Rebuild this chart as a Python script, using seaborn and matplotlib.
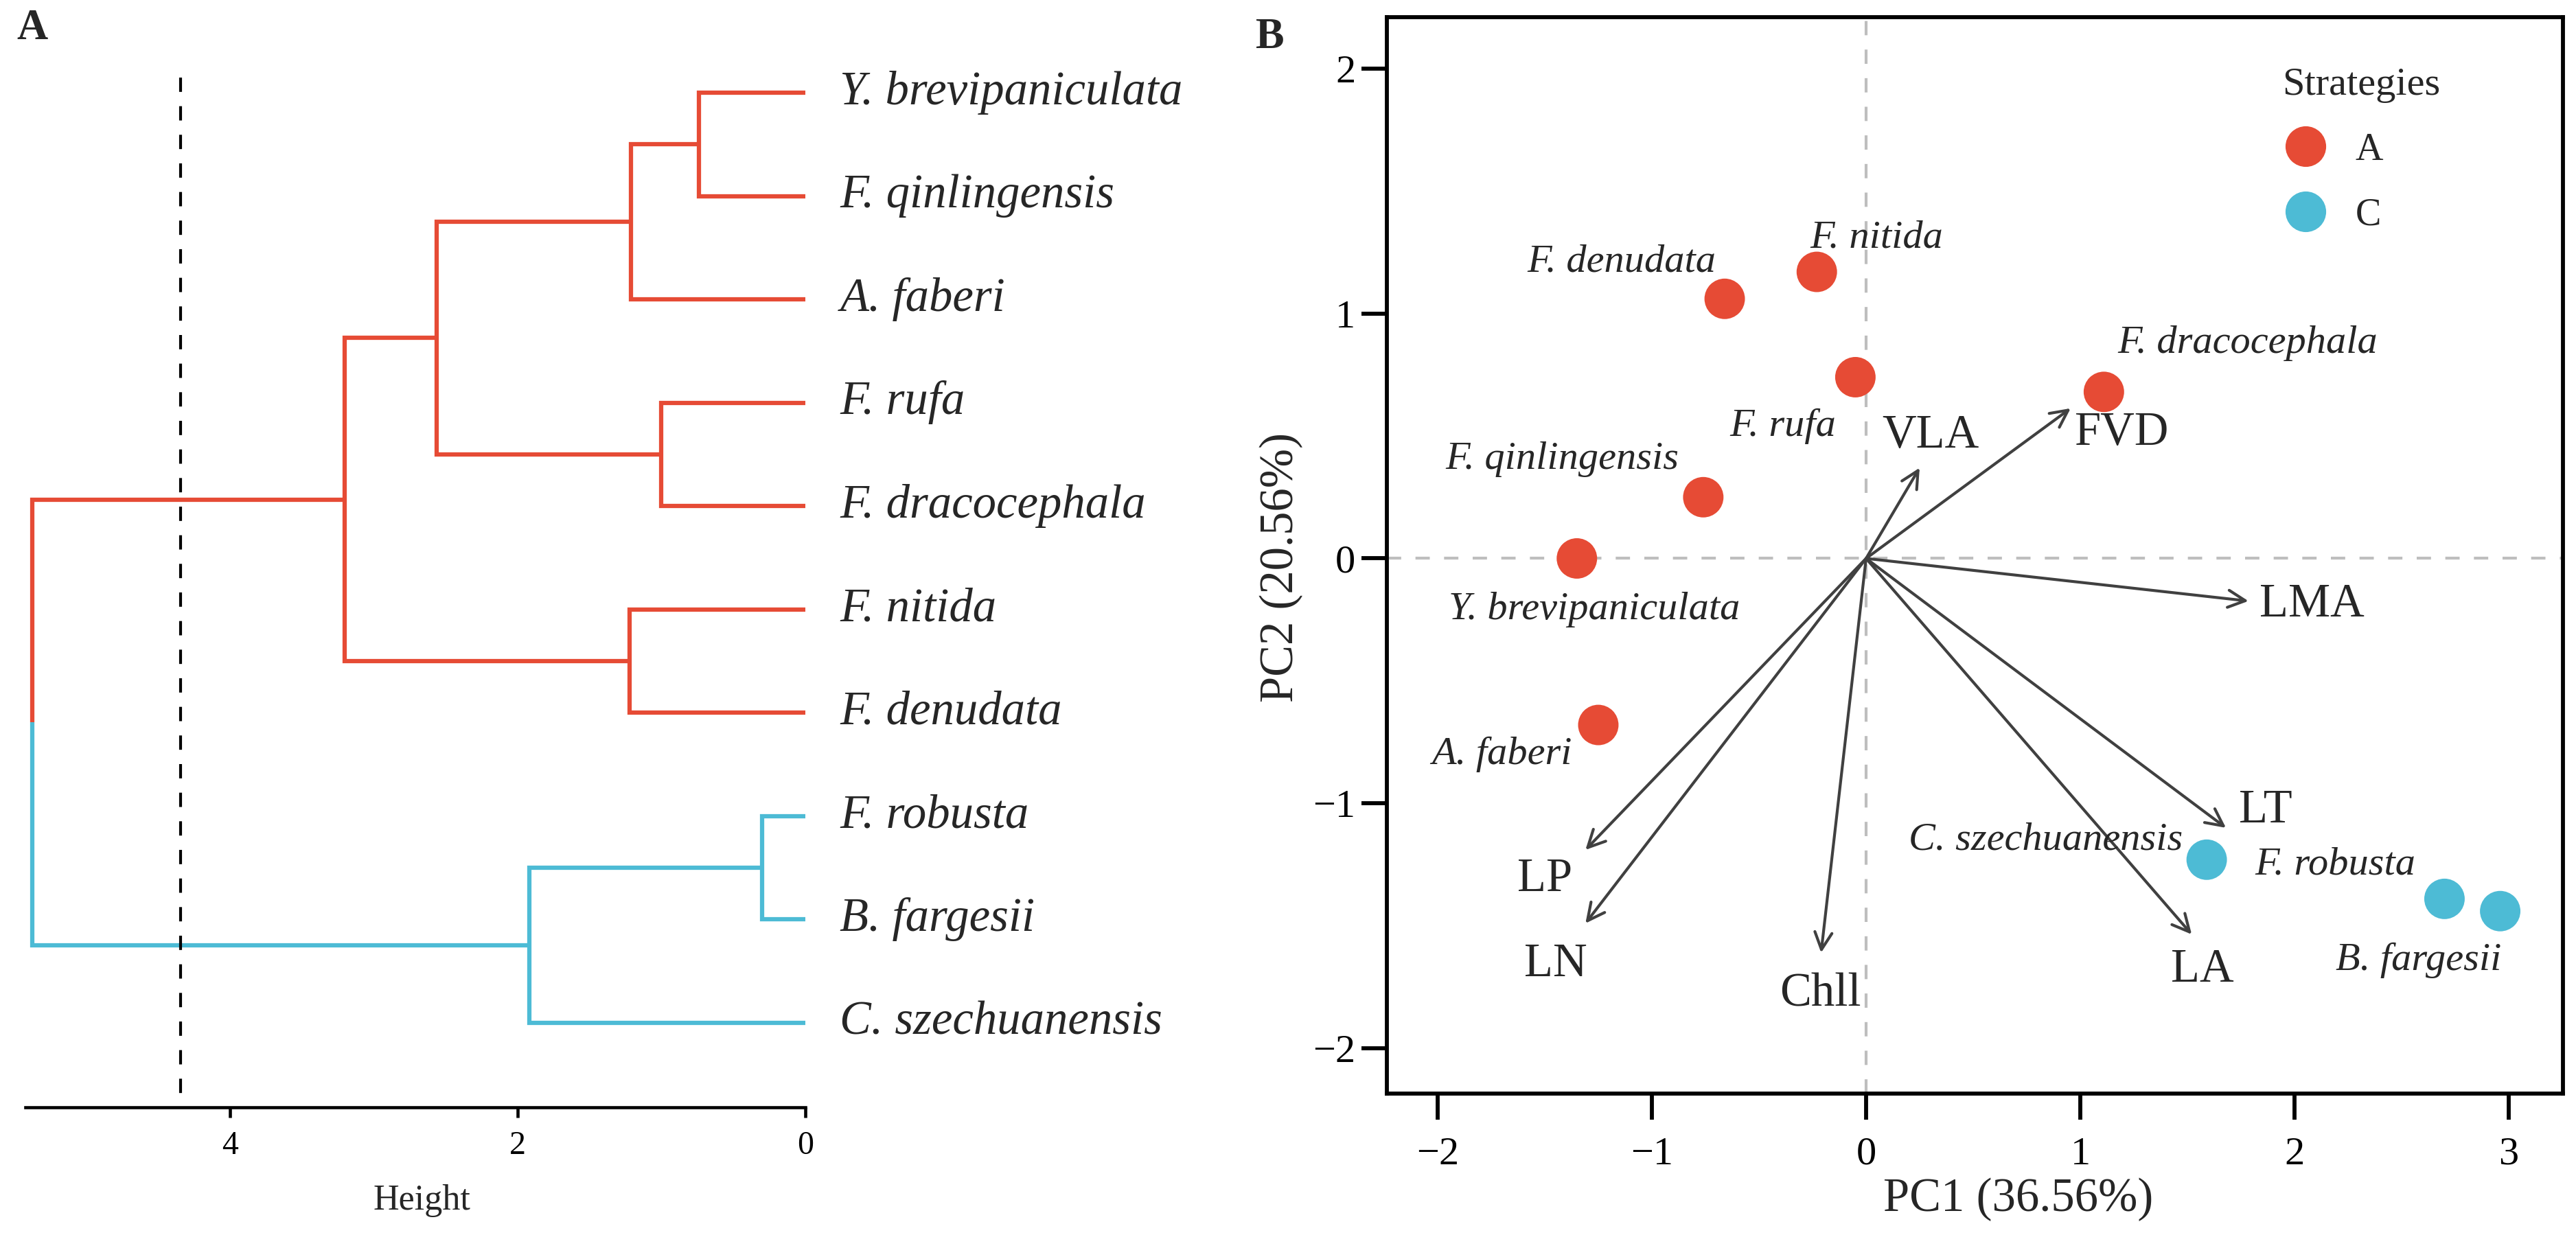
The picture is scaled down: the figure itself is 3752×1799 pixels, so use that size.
import numpy as np
import pandas as pd
import matplotlib
matplotlib.use("Agg")
import matplotlib.pyplot as plt
import seaborn as sns

# ---------------- data ----------------
# Panel A: hierarchical clustering (leaf order top -> bottom)
leaf_names = ["Y. brevipaniculata", "F. qinlingensis", "A. faberi", "F. rufa",
              "F. dracocephala", "F. nitida", "F. denudata", "F. robusta",
              "B. fargesii", "C. szechuanensis"]
leaf_cluster = ["A", "A", "A", "A", "A", "A", "A", "C", "C", "C"]
# merges (node ids: 0-9 leaves, 10+ merged nodes in order)
merge_left = [0, 10, 3, 11, 5, 13, 7, 16, 15]
merge_right = [1, 2, 4, 12, 6, 14, 8, 9, 17]
merge_height = [0.74, 1.21, 1.00, 2.56, 1.22, 3.20, 0.30, 1.92, 5.37]
cut_height = 4.34
height_ticks = [4, 2, 0]

# Panel B: PCA biplot
pca_species = ["F. denudata", "F. nitida", "F. rufa", "F. qinlingensis",
               "Y. brevipaniculata", "A. faberi", "F. dracocephala",
               "C. szechuanensis", "F. robusta", "B. fargesii"]
pc1 = [-0.66, -0.23, -0.05, -0.76, -1.35, -1.25, 1.11, 1.59, 2.70, 2.96]
pc2 = [1.06, 1.17, 0.74, 0.25, 0.00, -0.68, 0.68, -1.23, -1.39, -1.44]
strategy = ["A", "A", "A", "A", "A", "A", "A", "C", "C", "C"]
label_x = [-1.14, 0.05, -0.39, -1.42, -1.27, -1.70, 1.78, 0.84, 2.19, 2.58]
label_y = [1.21, 1.31, 0.54, 0.405, -0.21, -0.80, 0.88, -1.15, -1.25, -1.64]

traits = ["VLA", "FVD", "LMA", "LT", "LA", "Chll", "LP", "LN"]
load_pc1 = [0.25, 0.955, 1.785, 1.68, 1.52, -0.21, -1.31, -1.31]
load_pc2 = [0.37, 0.613, -0.174, -1.10, -1.535, -1.61, -1.19, -1.49]
trait_lx = [0.30, 1.19, 2.08, 1.865, 1.57, -0.215, -1.50, -1.45]
trait_ly = [0.50, 0.51, -0.19, -1.03, -1.68, -1.78, -1.31, -1.66]

x_ticks = [-2, -1, 0, 1, 2, 3]
y_ticks = [-2, -1, 0, 1, 2]
xlabel = "PC1 (36.56%)"
ylabel = "PC2 (20.56%)"

palette = {"A": "#E64B35", "C": "#4DBBD5"}

# ---------------- style ----------------
sns.set_style("white")
plt.rcParams["font.family"] = ["Liberation Serif", "DejaVu Serif"]
plt.rcParams["axes.unicode_minus"] = True

W, H = 3752, 1799
DPI = 300
fig = plt.figure(figsize=(W / DPI, H / DPI), dpi=DPI)

def fr(x0, x1, y0, y1):
    # pixel box -> figure fraction [left, bottom, width, height]
    return [x0 / W, 1 - y1 / H, (x1 - x0) / W, (y1 - y0) / H]

# ---------------- Panel A ----------------
axA = fig.add_axes(fr(37, 1173, 20, 1613))
n = len(leaf_names)
node_h = {i: 0.0 for i in range(n)}
node_y = {i: float(i) for i in range(n)}
node_cl = {i: leaf_cluster[i] for i in range(n)}
for k, (l, r, h) in enumerate(zip(merge_left, merge_right, merge_height)):
    nid = n + k
    node_h[nid] = h
    node_y[nid] = (node_y[l] + node_y[r]) / 2
    node_cl[nid] = node_cl[l] if node_cl[l] == node_cl[r] else None
    for c in (l, r):
        col = palette[node_cl[c]]
        axA.plot([h, h, node_h[c]], [node_y[nid], node_y[c], node_y[c]],
                 color=col, lw=1.5, solid_capstyle="butt",
                 solid_joinstyle="miter", clip_on=False)

for i, name in enumerate(leaf_names):
    axA.text(-0.24, i, name, ha="left", va="center", fontsize=16.5,
             style="italic", clip_on=False)

axA.plot([cut_height, cut_height], [-0.146, 9.73], color="black", lw=1.0,
         linestyle=(0, (5, 5)), clip_on=False)

axA.set_xlim(5.42, 0)
axA.set_ylim((1613 - 135) / 150.5, (20 - 135) / 150.5)
axA.set_xticks(height_ticks)
axA.set_xticklabels([str(t) for t in height_ticks], fontsize=11.5)
axA.set_yticks([])
for s in ["top", "left", "right"]:
    axA.spines[s].set_visible(False)
axA.spines["bottom"].set_linewidth(1.1)
axA.spines["bottom"].set_color("black")
axA.tick_params(axis="x", direction="out", length=3.6, width=1.1,
                pad=4.5, colors="black", bottom=True)
axA.set_xlabel("Height", fontsize=12.5)
axA.xaxis.set_label_coords(0.508, -0.07)
axA.set_facecolor("none")

# ---------------- Panel B ----------------
axB = fig.add_axes(fr(2020, 3733, 25, 1593))
axB.axhline(0, color="#BEBEBE", lw=1.0, linestyle=(0, (5, 5)), zorder=1)
axB.axvline(0, color="#BEBEBE", lw=1.0, linestyle=(0, (5, 5)), zorder=1)

df = pd.DataFrame({"PC1": pc1, "PC2": pc2, "Strategies": strategy,
                   "species": pca_species})
sns.scatterplot(data=df, x="PC1", y="PC2", hue="Strategies", palette=palette,
                s=200, linewidth=0, ax=axB, zorder=3)

for sp, lx, ly in zip(pca_species, label_x, label_y):
    axB.text(lx, ly, sp, ha="center", va="center", fontsize=14,
             style="italic", zorder=4)

for t, x, y, tx, ty in zip(traits, load_pc1, load_pc2, trait_lx, trait_ly):
    axB.annotate("", xy=(x, y), xytext=(0, 0),
                 arrowprops=dict(arrowstyle="->", color="#404040", lw=1.0,
                                 mutation_scale=15, shrinkA=0, shrinkB=0),
                 zorder=2)
    axB.text(tx, ty, t, ha="center", va="center", fontsize=16.5, zorder=4)

axB.set_xlim(-2.237, 3.253)
axB.set_ylim(-2.185, 2.21)
axB.set_xticks(x_ticks)
axB.set_yticks(y_ticks)
axB.set_xticklabels([f"{v}".replace("-", "\u2212") for v in x_ticks], fontsize=14)
axB.set_yticklabels([f"{v}".replace("-", "\u2212") for v in y_ticks], fontsize=14)
for s in axB.spines.values():
    s.set_visible(True)
    s.set_linewidth(1.4)
    s.set_color("black")
axB.tick_params(axis="both", direction="out", length=9, width=1.4,
                colors="black", bottom=True, left=True)
axB.tick_params(axis="x", pad=6)
axB.tick_params(axis="y", pad=2)
axB.set_xlabel(xlabel, fontsize=16.5)
axB.set_ylabel(ylabel, fontsize=16.5)
axB.xaxis.set_label_coords(0.537, -0.078)
axB.yaxis.set_label_coords(-0.071, 0.489)

sns.move_legend(axB, "upper left", bbox_to_anchor=(0.736, 0.981),
                frameon=False, title="Strategies", fontsize=13.5,
                title_fontsize=14, handlelength=1.2, handletextpad=0.7,
                labelspacing=0.76, borderpad=0.27, alignment="left")
leg = axB.get_legend()
for h in leg.legend_handles:
    h.set_markersize(14.2)

# panel tags
fig.text(47 / W, 1 - 42 / H, "A", fontsize=15, fontweight="bold",
         ha="center", va="center")
fig.text(1850 / W, 1 - 55 / H, "B", fontsize=15, fontweight="bold",
         ha="center", va="center")

fig.savefig("out.png", dpi=DPI)
